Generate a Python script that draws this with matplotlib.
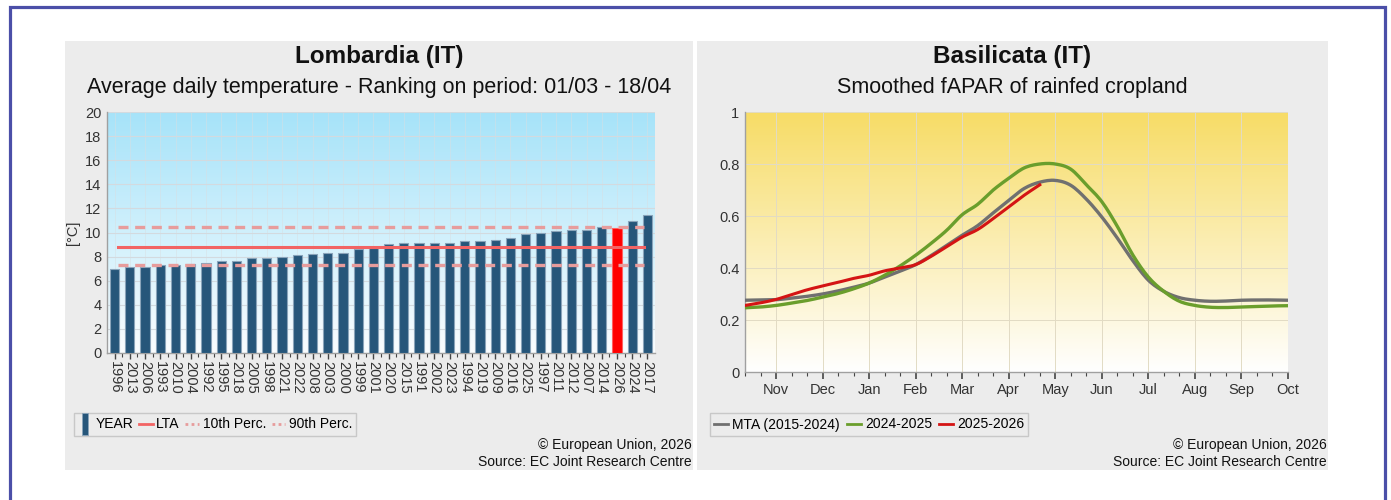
import numpy as np
import matplotlib
matplotlib.use("Agg")
import matplotlib.pyplot as plt
from matplotlib.patches import Rectangle
from matplotlib.lines import Line2D
from matplotlib.ticker import MultipleLocator, FixedLocator

plt.rcParams['font.family'] = ['Liberation Sans', 'DejaVu Sans']

# --- Lombardia: average daily temperature ranking (01/03 - 18/04)
years = ['1996', '2013', '2006', '1993', '2010', '2004', '1992', '1995', '2018',
         '2005', '1998', '2021', '2022', '2008', '2003', '2000', '1999', '2001',
         '2020', '2015', '1991', '2002', '2023', '1994', '2019', '2009', '2016',
         '2025', '1997', '2011', '2012', '2007', '2014', '2026', '2024', '2017']
temps = [7.0, 7.1, 7.1, 7.3, 7.3, 7.35, 7.45, 7.62, 7.62,
         7.85, 7.85, 8.0, 8.1, 8.2, 8.32, 8.32, 8.65, 8.73,
         9.05, 9.1, 9.1, 9.1, 9.15, 9.3, 9.3, 9.35, 9.52,
         9.85, 9.95, 10.1, 10.18, 10.2, 10.45, 10.4, 10.95, 11.42]
current_year = '2026'
lta = 8.83
p10 = 7.31
p90 = 10.48

# --- Basilicata: smoothed fAPAR, dekads counted from 1 Nov (Oct 11 = -2)
dekads = list(range(-2, 34))
mta = [0.276, 0.277, 0.278, 0.284, 0.291, 0.300, 0.312, 0.326, 0.342, 0.365,
       0.388, 0.413, 0.448, 0.487, 0.526, 0.563, 0.612, 0.660, 0.706, 0.730,
       0.737, 0.718, 0.665, 0.596, 0.515, 0.428, 0.353, 0.310, 0.286, 0.276,
       0.272, 0.273, 0.276, 0.277, 0.277, 0.276]
season_prev = [0.247, 0.250, 0.256, 0.265, 0.275, 0.288, 0.302, 0.320, 0.342, 0.372,
               0.408, 0.449, 0.495, 0.545, 0.605, 0.645, 0.700, 0.745, 0.785, 0.800,
               0.800, 0.780, 0.720, 0.655, 0.560, 0.450, 0.365, 0.310, 0.272, 0.256,
               0.249, 0.248, 0.250, 0.252, 0.254, 0.255]
season_cur = [0.256, 0.266, 0.279, 0.298, 0.316, 0.331, 0.345, 0.360, 0.372, 0.389,
              0.400, 0.413, 0.445, 0.482, 0.519, 0.548, 0.590, 0.635, 0.680, 0.720]
months = ['Nov', 'Dec', 'Jan', 'Feb', 'Mar', 'Apr', 'May', 'Jun', 'Jul', 'Aug', 'Sep', 'Oct']

W, H = 1391, 500
fig = plt.figure(figsize=(W / 100, H / 100), dpi=100)


def box(x0, y0, x1, y1):
    # pixel box (top-left origin) -> figure fraction rect
    return [x0 / W, 1 - y1 / H, (x1 - x0) / W, (y1 - y0) / H]


def smooth(xs, ys, n=8):
    # Catmull-Rom pass through the dekad points, for a rounded line
    xs = np.asarray(xs, float)
    ys = np.asarray(ys, float)
    px = np.concatenate([[2 * xs[0] - xs[1]], xs, [2 * xs[-1] - xs[-2]]])
    py = np.concatenate([[2 * ys[0] - ys[1]], ys, [2 * ys[-1] - ys[-2]]])
    t = np.linspace(0, 1, n, endpoint=False)[:, None]
    outx, outy = [], []
    for i in range(1, len(px) - 2):
        for p, out in ((px, outx), (py, outy)):
            p0, p1, p2, p3 = p[i - 1], p[i], p[i + 1], p[i + 2]
            seg = 0.5 * (2 * p1 + (p2 - p0) * t + (2 * p0 - 5 * p1 + 4 * p2 - p3) * t ** 2
                         + (3 * p1 - p0 - 3 * p2 + p3) * t ** 3)
            out.extend(seg.ravel())
    outx.append(xs[-1])
    outy.append(ys[-1])
    return outx, outy


# outer frame and the two grey panels
fig.patches.append(Rectangle((9.5 / W, -0.1), 1375 / W, 1.1 - 7.5 / H,
                             transform=fig.transFigure, fill=False,
                             edgecolor='#4B4FA8', linewidth=2.3, zorder=-2))
for x0, x1 in [(65, 693), (697, 1328)]:
    fig.patches.append(Rectangle((x0 / W, 1 - 470 / H), (x1 - x0) / W, 429 / H,
                                 transform=fig.transFigure, facecolor='#ECECEC',
                                 edgecolor='none', zorder=-1))


def gradient(ax, top, bottom, xlim, ylim):
    top = np.array(matplotlib.colors.to_rgb(top))
    bottom = np.array(matplotlib.colors.to_rgb(bottom))
    t = np.linspace(0, 1, 256)[:, None]
    img = top * (1 - t) + bottom * t
    ax.imshow(img[:, None, :], extent=[xlim[0], xlim[1], ylim[0], ylim[1]],
              aspect='auto', zorder=0, interpolation='bilinear')


def style_axes(ax):
    ax.patch.set_alpha(0)
    for s in ['top', 'right']:
        ax.spines[s].set_visible(False)
    for s in ['left', 'bottom']:
        ax.spines[s].set_color('#A0A0A0')
        ax.spines[s].set_linewidth(1.0)
    ax.tick_params(axis='y', length=0, labelsize=10.5, colors='#333333', pad=4)
    ax.tick_params(axis='x', which='both', colors='#444444', labelcolor='#333333')


# ---------------- left chart ----------------
ax1 = fig.add_axes(box(107, 112, 655, 353))
xlim1 = (-0.5, len(years) - 0.5)
gradient(ax1, '#A6E3F9', '#FAFDFF', xlim1, (0, 20))
x = np.arange(len(years))
colors = ['#FF0000' if y == current_year else '#26567A' for y in years]
edges = ['#FF6060' if y == current_year else '#8AA4BA' for y in years]
ax1.bar(x, temps, width=0.6, color=colors, edgecolor=edges, linewidth=0.8, zorder=3)
ax1.axhline(lta, xmin=0.02, xmax=0.98, color='#F26464', linewidth=2.2, zorder=4)
ax1.axhline(p10, xmin=0.02, xmax=0.98, color='#E79C9C', linewidth=2.4,
            linestyle=(0, (3, 2)), zorder=4)
ax1.axhline(p90, xmin=0.02, xmax=0.98, color='#E79C9C', linewidth=2.4,
            linestyle=(0, (3, 2)), zorder=4)
ax1.set_xlim(*xlim1)
ax1.set_ylim(0, 20)
ax1.yaxis.set_major_locator(MultipleLocator(2))
ax1.set_xticks(x)
ax1.set_xticklabels(years, rotation=-90, fontsize=10.5)
ax1.xaxis.set_minor_locator(FixedLocator(x[:-1] + 0.5))
ax1.tick_params(axis='x', which='major', length=4, width=1, pad=2)
ax1.tick_params(axis='x', which='minor', length=3, width=0.8)
style_axes(ax1)
ax1.grid(axis='y', color='#D3DADF', linewidth=0.8, zorder=1)
ax1.grid(axis='x', color='#D8DFE3', linewidth=0.6, alpha=0.6, zorder=1)
ax1.set_axisbelow(True)
ax1.set_ylabel('[°C]', fontsize=10.5, color='#333333', labelpad=4)

fig.text(379 / W, 1 - 57 / H, 'Lombardia (IT)', ha='center', va='center',
         fontsize=17.5, fontweight='bold', color='#111111')
fig.text(379 / W, 1 - 88 / H, 'Average daily temperature - Ranking on period: 01/03 - 18/04',
         ha='center', va='center', fontsize=15.5, color='#111111')

bar_marker = [(-0.3, -1), (0.3, -1), (0.3, 1), (-0.3, 1), (-0.3, -1)]
h1 = [Line2D([], [], marker=bar_marker, markersize=16, linestyle='none',
             markerfacecolor='#26567A', markeredgecolor='#8AA4BA', markeredgewidth=0.6),
      Line2D([], [], color='#F26464', linewidth=2),
      Line2D([], [], color='#E79C9C', linewidth=2, linestyle=(0, (1, 1.2))),
      Line2D([], [], color='#E79C9C', linewidth=2, linestyle=(0, (1, 1.2)))]
fig.legend(h1, ['YEAR', 'LTA', '10th Perc.', '90th Perc.'], loc='center left',
           bbox_to_anchor=(74 / W, 1 - 424.5 / H), ncol=4, fontsize=10,
           frameon=True, fancybox=False, edgecolor='#C8C8C8', facecolor='#ECECEC',
           framealpha=1, handlelength=1.0, handletextpad=0.25, columnspacing=0.4,
           borderpad=0.3, borderaxespad=0)

for x_right in [692, 1327]:
    fig.text(x_right / W, 1 - 445 / H, '© European Union, 2026', ha='right',
             va='center', fontsize=10, color='#111111')
    fig.text(x_right / W, 1 - 461.5 / H, 'Source: EC Joint Research Centre', ha='right',
             va='center', fontsize=10, color='#111111')

# ---------------- right chart ----------------
ax2 = fig.add_axes(box(745, 112, 1288, 372))
xlim2 = (-2, 33)
gradient(ax2, '#F7DC66', '#FFFFFF', xlim2, (0, 1))
ax2.plot(*smooth(dekads, mta), color='#707070', linewidth=2.4, zorder=3)
ax2.plot(*smooth(dekads, season_prev), color='#6A9E2C', linewidth=2.4, zorder=3)
ax2.plot(*smooth(dekads[:len(season_cur)], season_cur), color='#D41414',
         linewidth=2.2, zorder=4)
ax2.set_xlim(*xlim2)
ax2.set_ylim(0, 1)
ax2.set_yticks([0, 0.2, 0.4, 0.6, 0.8, 1])
ax2.set_yticklabels(['0', '0.2', '0.4', '0.6', '0.8', '1'])
ax2.set_xticks(np.arange(0, 34, 3))
ax2.set_xticklabels(months, fontsize=10.5)
ax2.xaxis.set_minor_locator(MultipleLocator(1))
ax2.tick_params(axis='x', which='major', length=5, width=1.2, pad=3)
ax2.tick_params(axis='x', which='minor', length=3, width=0.8)
style_axes(ax2)
ax2.grid(axis='both', which='major', color='#E2DBC4', linewidth=0.7, zorder=1)
ax2.set_axisbelow(True)

fig.text(1012 / W, 1 - 57 / H, 'Basilicata (IT)', ha='center', va='center',
         fontsize=17.5, fontweight='bold', color='#111111')
fig.text(1012 / W, 1 - 88 / H, 'Smoothed fAPAR of rainfed cropland',
         ha='center', va='center', fontsize=15.5, color='#111111')

h2 = [Line2D([], [], color='#707070', linewidth=2),
      Line2D([], [], color='#6A9E2C', linewidth=2),
      Line2D([], [], color='#D41414', linewidth=2)]
fig.legend(h2, ['MTA (2015-2024)', '2024-2025', '2025-2026'], loc='center left',
           bbox_to_anchor=(710 / W, 1 - 424.5 / H), ncol=3, fontsize=10,
           frameon=True, fancybox=False, edgecolor='#C8C8C8', facecolor='#ECECEC',
           framealpha=1, handlelength=1.0, handletextpad=0.3, columnspacing=0.5,
           borderpad=0.3, borderaxespad=0)

fig.savefig('out.png', dpi=100, facecolor='white')
